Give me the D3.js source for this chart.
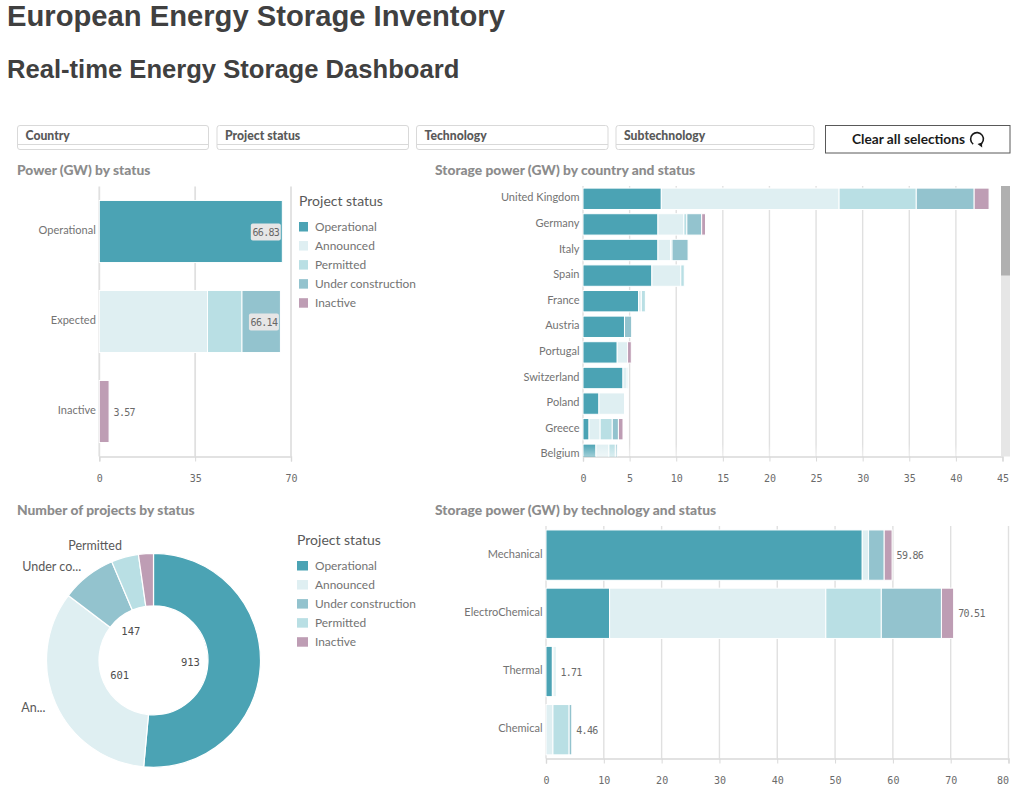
<!DOCTYPE html>
<html>
<head>
<meta charset="utf-8">
<title>European Energy Storage Inventory</title>
<script src="https://cdn.jsdelivr.net/npm/d3@7/dist/d3.min.js"></script>
<style>
  html, body { margin: 0; padding: 0; background: #fff; }
  svg { display: block; }
  text { font-family: "Lato", "Open Sans", sans-serif; }
  .mono { font-family: "DejaVu Sans Mono", monospace; }
</style>
</head>
<body>
<svg id="dash" width="1024" height="808"></svg>
<script>
// Status palette and ordering
const statusNames = ["Operational", "Announced", "Permitted", "Under construction", "Inactive"];
const statusColors = ["#4ba3b4", "#dfeff2", "#b9dfe4", "#93c3ce", "#be9db4"];
const donutLegendOrder = ["Operational", "Announced", "Under construction", "Permitted", "Inactive"];

// Power (GW) by status
const powerGroups = ["Operational", "Expected", "Inactive"];
const powerOperational = [66.83, 0, 0];
const powerAnnounced = [0, 39.5, 0];
const powerPermitted = [0, 12.6, 0];
const powerUnderConstruction = [0, 14.04, 0];
const powerInactive = [0, 0, 3.57];
const powerTicks = [0, 35, 70];

// Storage power (GW) by country
const countries = ["United Kingdom", "Germany", "Italy", "Spain", "France", "Austria", "Portugal", "Switzerland", "Poland", "Greece", "Belgium"];
const countryOperational = [8.4, 8.04, 8.04, 7.39, 5.96, 4.45, 3.67, 4.29, 1.71, 0.65, 1.39];
const countryAnnounced = [19.07, 2.78, 1.35, 3.1, 0.3, 0, 1.11, 0.45, 2.74, 1.19, 1.39];
const countryPermitted = [8.28, 0.32, 0.16, 0.37, 0.43, 0, 0, 0.12, 0, 1.3, 0.69];
const countryUnderConstruction = [6.21, 1.59, 1.72, 0, 0, 0.77, 0, 0, 0, 0.66, 0.2];
const countryInactive = [1.6, 0.41, 0, 0, 0, 0, 0.4, 0, 0, 0.49, 0];
const countryTicks = [0, 5, 10, 15, 20, 25, 30, 35, 40, 45];

// Number of projects by status
const projectStatus = ["Operational", "Announced", "Under construction", "Permitted", "Inactive"];
const projectCounts = [913, 601, 147, 73, 40];
const projectOuterLabels = ["", "An...", "Under co...", "Permitted", ""];
const projectInnerLabels = ["913", "601", "147", "", ""];

// Storage power (GW) by technology
const technologies = ["Mechanical", "ElectroChemical", "Thermal", "Chemical"];
const techOperational = [54.7, 11.0, 1.1, 0];
const techAnnounced = [1.1, 37.4, 0.3, 1.2];
const techPermitted = [0, 9.6, 0.31, 2.8];
const techUnderConstruction = [2.7, 10.4, 0, 0.46];
const techInactive = [1.36, 2.11, 0, 0];
const techTicks = [0, 10, 20, 30, 40, 50, 60, 70, 80];

const filterNames = ["Country", "Project status", "Technology", "Subtechnology"];

const svg = d3.select("#dash");
const colorOf = d3.scaleOrdinal(statusNames, statusColors);
const labelGrey = "#737373";

// Headline block
svg.append("text").attr("x", 7).attr("y", 26)
  .style("font-family", "'Liberation Sans', sans-serif").style("font-weight", 700)
  .style("font-size", "29.2px").attr("fill", "#404040").text("European Energy Storage Inventory");
svg.append("text").attr("x", 7).attr("y", 78)
  .style("font-family", "'Liberation Sans', sans-serif").style("font-weight", 700)
  .style("font-size", "25.6px").attr("fill", "#404040").text("Real-time Energy Storage Dashboard");

// Filter panes
const filterBoxes = [[17.5, 191], [217, 191.5], [416.5, 191.5], [616, 198]];
filterNames.forEach((name, i) => {
  const [x, w] = filterBoxes[i];
  const g = svg.append("g");
  g.append("rect").attr("x", x).attr("y", 125.5).attr("width", w).attr("height", 24)
    .attr("rx", 2.5).attr("fill", "#fff").attr("stroke", "#d9d9d9");
  g.append("line").attr("x1", x).attr("x2", x + w).attr("y1", 144.5).attr("y2", 144.5)
    .attr("stroke", "#d9d9d9").attr("stroke-width", 1.2);
  g.append("text").attr("x", x + 8).attr("y", 139.5)
    .style("font-size", "12.2px").style("font-weight", 900).attr("fill", "#595959").text(name);
});

// Clear-selections button
const clearBtn = svg.append("g");
clearBtn.append("rect").attr("x", 825.5).attr("y", 125.5).attr("width", 184.5).attr("height", 27.5)
  .attr("fill", "#fff").attr("stroke", "#595959");
clearBtn.append("text").attr("x", 852).attr("y", 144)
  .style("font-size", "13.7px").style("font-weight", 700).attr("fill", "#1a1a1a").text("Clear all selections");
clearBtn.append("path")
  .attr("transform", "translate(977,139)")
  .attr("d", d3.arc().innerRadius(5.6).outerRadius(7.2).startAngle(-2.5).endAngle(2.7)())
  .attr("fill", "#1a1a1a");
clearBtn.append("path").attr("d", "M977.5 144 l4.5 -1.4 l0.2 5 z").attr("fill", "#1a1a1a");

function panelTitle(text, x, y) {
  svg.append("text").attr("x", x).attr("y", y)
    .style("font-size", "13.8px").style("font-weight", 900).attr("fill", "#8c8c8c").text(text);
}
panelTitle("Power (GW) by status", 17, 174.5);
panelTitle("Storage power (GW) by country and status", 435, 174.5);
panelTitle("Number of projects by status", 17, 514.5);
panelTitle("Storage power (GW) by technology and status", 435, 514.5);

// Stacked horizontal bars with a category axis, value axis and grid
function stackedBars(opts) {
  const rows = opts.categories.map((c, i) => {
    const row = { category: c };
    statusNames.forEach((s, k) => { row[s] = opts.series[k][i]; });
    return row;
  });
  const x = d3.scaleLinear().domain(opts.domain).range([opts.left, opts.right]);
  const y = d3.scaleBand().domain(opts.categories)
    .range([opts.top, opts.top + opts.step * opts.categories.length])
    .paddingInner(opts.padding).paddingOuter(opts.padding / 2);
  const g = svg.append("g");

  // vertical grid
  g.append("g").selectAll("line").data(opts.ticks).join("line")
    .attr("x1", d => x(d)).attr("x2", d => x(d))
    .attr("y1", opts.top).attr("y2", opts.bottom)
    .attr("stroke", "#e0e0e0").attr("stroke-width", opts.gridWidth);

  // value axis, beneath the bars
  const axis = g.append("g").attr("transform", `translate(0,${opts.bottom})`)
    .call(d3.axisBottom(x).tickValues(opts.ticks).tickFormat(d3.format("d")).tickSize(5).tickPadding(13));
  axis.select(".domain").attr("stroke", "#d9d9d9").attr("stroke-width", 1.4);
  axis.selectAll("line").attr("stroke", "#d9d9d9").attr("stroke-width", 1);
  axis.selectAll("text").attr("class", "mono").style("font-size", "10px").attr("fill", "#6b6b6b");
  if (opts.lastLabelEnd) {
    axis.selectAll("text").filter(d => d === opts.domain[1]).attr("text-anchor", "end");
  }

  // stacked segments, clipped to the plot area so the list can scroll
  const clipId = "clip-" + opts.id;
  svg.append("clipPath").attr("id", clipId).append("rect")
    .attr("x", opts.left - 2).attr("y", opts.top)
    .attr("width", opts.right - opts.left + 4).attr("height", opts.bottom - opts.top);
  const stack = d3.stack().keys(statusNames)(rows);
  g.append("g").attr("clip-path", `url(#${clipId})`)
    .selectAll("g").data(stack).join("g").attr("fill", d => colorOf(d.key))
    .selectAll("rect").data(d => d.filter(p => p[1] > p[0])).join("rect")
    .attr("x", d => x(d[0]))
    .attr("y", d => y(d.data.category))
    .attr("width", d => x(d[1]) - x(d[0]))
    .attr("height", y.bandwidth())
    .attr("stroke", "#fff").attr("stroke-width", 1);

  // category axis
  const cat = g.append("g").attr("transform", `translate(${opts.left},0)`)
    .call(d3.axisLeft(y).tickSize(0).tickPadding(3.5));
  cat.select(".domain").remove();
  cat.selectAll("text").style("font-size", "11px").attr("fill", labelGrey).attr("dy", "0.24em");

  // totals
  if (opts.showTotals) {
    rows.forEach(r => {
      const total = d3.sum(statusNames, s => r[s]);
      const label = total.toFixed(2);
      const cy = y(r.category) + y.bandwidth() / 2 + 0.5;
      if (x(total) > opts.insideBeyond) {
        const tw = 30;
        g.append("rect").attr("x", x(total) - tw - 1.5).attr("y", cy - 8.5)
          .attr("width", tw).attr("height", 17).attr("rx", 2)
          .attr("fill", "#e6e6e6");
        g.append("text").attr("class", "mono").attr("x", x(total) - 1.5 - tw / 2).attr("y", cy)
          .attr("dy", "0.35em").attr("text-anchor", "middle")
          .style("font-size", "10px").style("letter-spacing", "-0.7px").attr("fill", "#666").text(label);
      } else {
        g.append("text").attr("class", "mono").attr("x", x(total) + 4.5).attr("y", cy)
          .attr("dy", "0.35em").style("font-size", "10px").style("letter-spacing", "-0.7px")
          .attr("fill", "#6b6b6b").text(label);
      }
    });
  }
}

function legend(x, y, titleText, names, textX) {
  const g = svg.append("g");
  const swatchRight = textX - 7;
  const rowStep = 19.05;
  g.append("text").attr("x", x).attr("y", y).style("font-size", "14px").attr("fill", "#595959").text(titleText);
  g.selectAll("rect").data(names).join("rect")
    .attr("x", x)
    .attr("y", (d, i) => y + 16 + i * rowStep)
    .attr("width", swatchRight - x)
    .attr("height", 9.5)
    .attr("fill", d => colorOf(d));
  g.selectAll("text.item").data(names).join("text").attr("class", "item")
    .attr("x", textX).attr("y", (d, i) => y + 21 + i * rowStep)
    .attr("dy", "0.35em").style("font-size", "11.9px").attr("fill", labelGrey).text(d => d);
}

stackedBars({
  id: "power", categories: powerGroups,
  series: [powerOperational, powerAnnounced, powerPermitted, powerUnderConstruction, powerInactive],
  domain: [0, 70], ticks: powerTicks, left: 99.3, right: 291, top: 186.5, bottom: 456.5,
  step: 90, padding: 0.31, gridWidth: 1.8, showTotals: true, insideBeyond: 200
});
legend(299, 206, "Project status", statusNames, 315);

stackedBars({
  id: "country", categories: countries,
  series: [countryOperational, countryAnnounced, countryPermitted, countryUnderConstruction, countryInactive],
  domain: [0, 45], ticks: countryTicks, left: 583, right: 1002.5, top: 186, bottom: 456.5,
  step: 25.6, padding: 0.165, gridWidth: 1.4, showTotals: false
});
// Fade at the foot of the scrolling country list
const fade = svg.append("defs").append("linearGradient").attr("id", "listFade")
  .attr("x1", 0).attr("x2", 0).attr("y1", 0).attr("y2", 1);
fade.append("stop").attr("offset", 0).attr("stop-color", "#fff").attr("stop-opacity", 0);
fade.append("stop").attr("offset", 1).attr("stop-color", "#fff").attr("stop-opacity", 0.45);
svg.append("rect").attr("x", 583).attr("y", 444).attr("width", 418).attr("height", 12)
  .attr("fill", "url(#listFade)");
// Scrollbar for the country list
svg.append("rect").attr("x", 1001).attr("y", 186).attr("width", 9).attr("height", 270.5).attr("fill", "#e6e6e6");
svg.append("rect").attr("x", 1001).attr("y", 186).attr("width", 9).attr("height", 89.5).attr("fill", "#b0b0b0");

stackedBars({
  id: "tech", categories: technologies,
  series: [techOperational, techAnnounced, techPermitted, techUnderConstruction, techInactive],
  domain: [0, 80], ticks: techTicks, left: 546, right: 1008.5, top: 526, bottom: 758.5,
  step: 58.2, padding: 0.136, gridWidth: 1.4, showTotals: true, insideBeyond: 2000, lastLabelEnd: true
});

// Donut of project counts
const donutCx = 153.5, donutCy = 660.3, outerR = 107, innerR = 54.5;
const pieData = d3.pie().sort(null)(projectCounts);
const arc = d3.arc().innerRadius(innerR).outerRadius(outerR);
const donut = svg.append("g").attr("transform", `translate(${donutCx},${donutCy})`);
donut.selectAll("path").data(pieData).join("path")
  .attr("d", arc)
  .attr("fill", (d, i) => colorOf(projectStatus[i]))
  .attr("stroke", "#fff").attr("stroke-width", 1.2);
const midAngle = d => (d.startAngle + d.endAngle) / 2;
donut.selectAll("text.count").data(pieData).join("text").attr("class", "count mono")
  .attr("x", d => Math.sin(midAngle(d)) * 37)
  .attr("y", d => -Math.cos(midAngle(d)) * 37)
  .attr("dy", "0.35em").attr("text-anchor", "middle")
  .style("font-size", "10.5px").attr("fill", "#4d4d4d")
  .text((d, i) => projectInnerLabels[i]);
donut.selectAll("text.name").data(pieData).join("text").attr("class", "name")
  .attr("x", d => Math.sin(midAngle(d)) * 118)
  .attr("y", d => -Math.cos(midAngle(d)) * 118 - 0.5)
  .attr("dy", "0.35em").attr("text-anchor", "end")
  .style("font-size", "12.5px").attr("fill", "#595959")
  .text((d, i) => projectOuterLabels[i]);
legend(297, 545, "Project status", donutLegendOrder, 315);
</script>
</body>
</html>
